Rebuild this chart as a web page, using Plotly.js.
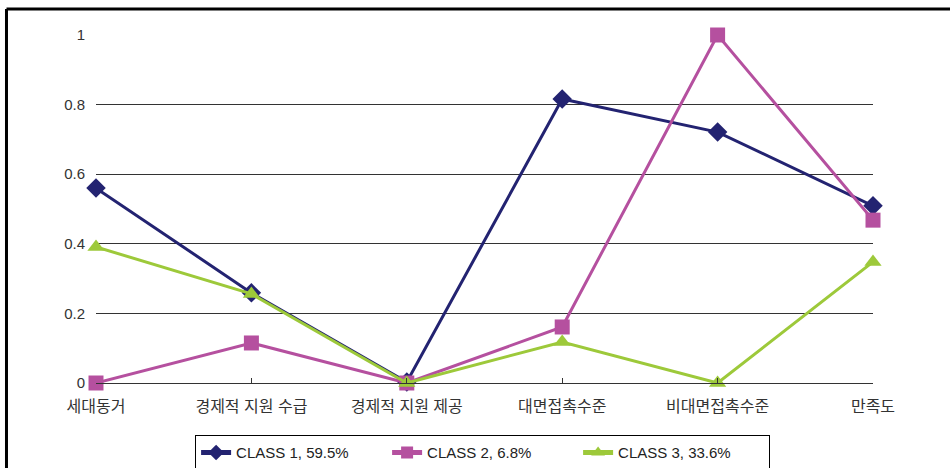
<!DOCTYPE html>
<html><head><meta charset="utf-8">
<script src="https://cdn.plot.ly/plotly-3.0.1.min.js"></script>
<style>html,body{margin:0;padding:0;background:#fff;}#chart{width:950px;height:468px;}</style>
</head><body><div id="chart"></div>
<script>
const categories = ['세대동거', '경제적 지원 수급', '경제적 지원 제공', '대면접촉수준', '비대면접촉수준', '만족도'];
const class1 = [0.56, 0.259, 0.003, 0.816, 0.721, 0.509];
const class2 = [0.0, 0.115, 0.0, 0.161, 1.0, 0.468];
const class3 = [0.391, 0.256, 0.0, 0.118, 0.0, 0.348];
const seriesNames = ['CLASS 1, 59.5%', 'CLASS 2, 6.8%', 'CLASS 3, 33.6%'];
const yTicks = [0, 0.2, 0.4, 0.6, 0.8, 1];
const yTickLabels = ['0', '0.2', '0.4', '0.6', '0.8', '1'];

const font = 'Liberation Sans, Noto Sans CJK KR, sans-serif';
const traces = [
  {x: categories, y: class1, name: seriesNames[0], type: 'scatter', mode: 'lines+markers', cliponaxis: false,
   line: {color: '#232371', width: 3}, marker: {symbol: 'diamond', size: 15, color: '#232371'}},
  {x: categories, y: class2, name: seriesNames[1], type: 'scatter', mode: 'lines+markers', cliponaxis: false,
   line: {color: '#b5509f', width: 3}, marker: {symbol: 'square', size: 15, color: '#b5509f'}},
  {x: categories, y: class3, name: seriesNames[2], type: 'scatter', mode: 'lines+markers', cliponaxis: false,
   line: {color: '#9dc93a', width: 3}, marker: {symbol: 'triangle-up', size: 15, color: '#9dc93a'}}
];
const layout = {
  width: 950, height: 468,
  margin: {l: 96, r: 77, t: 35, b: 85},
  paper_bgcolor: '#fff', plot_bgcolor: '#fff',
  showlegend: true,
  legend: {orientation: 'h', xref: 'container', yref: 'container', x: 0.508, xanchor: 'center', y: 0.07, yanchor: 'top',
           bordercolor: '#000', borderwidth: 1, font: {family: font, size: 15, color: '#222'}, itemsizing: 'constant',
           traceorder: 'normal', itemwidth: 30, entrywidth: 146, entrywidthmode: 'pixels', tracegroupgap: 0},
  xaxis: {type: 'category', range: [0, 5], showgrid: false, showline: true, linecolor: '#333', linewidth: 1,
          ticks: 'inside', ticklen: 5, tickcolor: '#333', tickfont: {family: font, size: 16, color: '#333'},
          ticklabelstandoff: 9, zeroline: false, fixedrange: true},
  yaxis: {range: [0, 1], tickvals: yTicks, ticktext: yTickLabels, showgrid: true, gridcolor: '#333', gridwidth: 1,
          showline: false, zeroline: false, ticks: '', tickfont: {family: font, size: 15, color: '#333'},
          ticklabelstandoff: 10, fixedrange: true},
  shapes: [
    {type: 'line', xref: 'paper', yref: 'paper', x0: -0.1152, x1: 1.2, y0: 1.0747, y1: 1.0747, line: {color: '#000', width: 3}},
    {type: 'line', xref: 'paper', yref: 'paper', x0: -0.1152, x1: -0.1152, y0: 1.0747, y1: -0.3, line: {color: '#000', width: 3}}
  ]
};
Plotly.newPlot('chart', traces, layout, {displayModeBar: false, staticPlot: true});
</script></body></html>
